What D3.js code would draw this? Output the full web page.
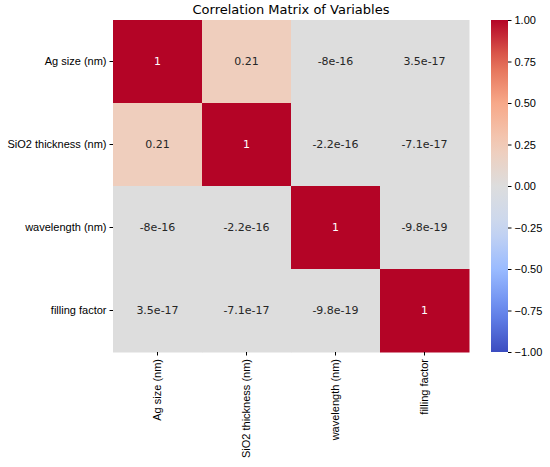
<!DOCTYPE html>
<html><head><meta charset="utf-8">
<script src="https://cdn.jsdelivr.net/npm/d3@7"></script>
<style>body{margin:0;background:#fff;font-family:"DejaVu Sans",sans-serif}</style>
</head><body><div id="main"></div>
<script>
const vars = ["Ag size (nm)", "SiO2 thickness (nm)", "wavelength (nm)", "filling factor"]
const values = [
  [1, 0.21, -8e-16, 3.5e-17],
  [0.21, 1, -2.2e-16, -7.1e-17],
  [-8e-16, -2.2e-16, 1, -9.8e-19],
  [3.5e-17, -7.1e-17, -9.8e-19, 1]
]
const labels = [
  ["1", "0.21", "-8e-16", "3.5e-17"],
  ["0.21", "1", "-2.2e-16", "-7.1e-17"],
  ["-8e-16", "-2.2e-16", "1", "-9.8e-19"],
  ["3.5e-17", "-7.1e-17", "-9.8e-19", "1"]
]
const cbTicks = [1, 0.75, 0.5, 0.25, 0, -0.25, -0.5, -0.75, -1]

let width = 550, height = 467
const svg = d3.select("#main").append("svg").attr("width", width).attr("height", height)

const x = d3.scaleBand().domain(vars).range([113, 469])
const y = d3.scaleBand().domain(vars).range([20, 352])

const cw = d3.piecewise(d3.interpolateRgb, ["#3b4cc0", "#6788ee", "#9abbff", "#c9d7f0", "#dddddd", "#f2cbb7", "#f7a889", "#e26952", "#b40426"])
const color = v => cw((v + 1) / 2)

const cells = []
values.forEach((row, i) => row.forEach((v, j) => cells.push({r: vars[i], c: vars[j], v, t: labels[i][j]})))

svg.selectAll("rect.cell").data(cells).join("rect")
  .attr("x", d => x(d.c)).attr("y", d => y(d.r))
  .attr("width", x.bandwidth() + 0.5).attr("height", y.bandwidth() + 0.5)
  .attr("fill", d => color(d.v))
svg.selectAll("text.val").data(cells).join("text")
  .attr("x", d => x(d.c) + x.bandwidth() / 2).attr("y", d => y(d.r) + y.bandwidth() / 2)
  .attr("text-anchor", "middle").attr("dominant-baseline", "central")
  .attr("font-size", 11).attr("fill", d => d.v > 0.5 ? "#fff" : "#262626")
  .text(d => d.t)

const ax = svg.append("g").attr("transform", "translate(0,352)").call(d3.axisBottom(x).tickSize(3.5))
ax.selectAll("text").attr("transform", "rotate(-90)").attr("text-anchor", "end")
  .attr("x", -7).attr("y", 0).attr("dy", "0.35em").attr("font-size", 11).attr("fill", "#000")
const ay = svg.append("g").attr("transform", "translate(113,0)").call(d3.axisLeft(y).tickSize(3.5))
ay.selectAll("text").attr("font-size", 11).attr("fill", "#000")
svg.selectAll(".domain").remove()

svg.append("text").attr("x", 291).attr("y", 14).attr("text-anchor", "middle")
  .attr("font-size", 13).text("Correlation Matrix of Variables")

// colorbar
const cy = d3.scaleLinear().domain([-1, 1]).range([352, 20])
const grad = svg.append("defs").append("linearGradient").attr("id", "g")
  .attr("x1", 0).attr("y1", 1).attr("x2", 0).attr("y2", 0)
d3.range(0, 1.001, 0.05).forEach(t => grad.append("stop").attr("offset", t).attr("stop-color", cw(t)))
svg.append("rect").attr("x", 491).attr("y", 20).attr("width", 17).attr("height", 332).attr("fill", "url(#g)")
const cb = svg.append("g").attr("transform", "translate(508,0)")
  .call(d3.axisRight(cy).tickValues(cbTicks).tickFormat(d3.format(".2f")).tickSize(3.5))
cb.select(".domain").remove()
cb.selectAll("text").attr("font-size", 11).attr("fill", "#000")
</script></body></html>
